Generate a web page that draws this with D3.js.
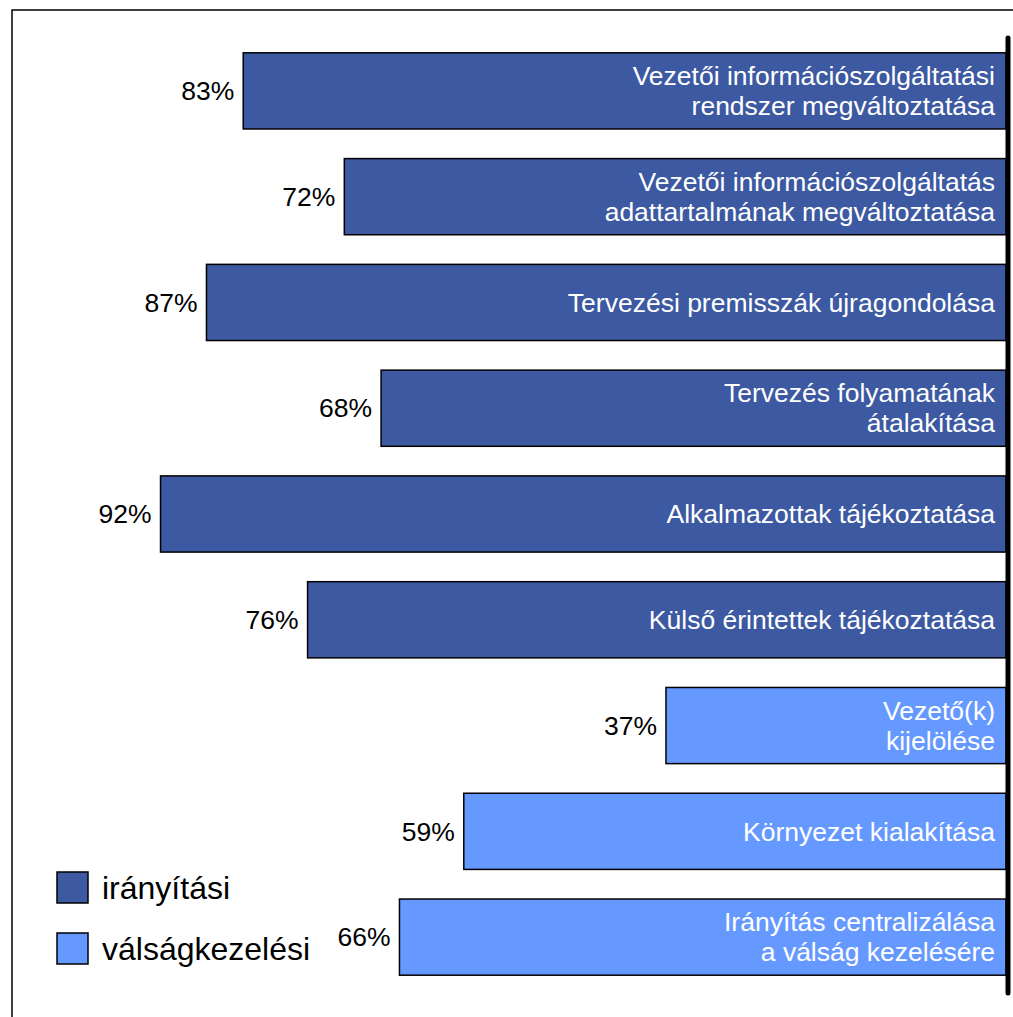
<!DOCTYPE html>
<html><head><meta charset="utf-8">
<script src="https://cdn.jsdelivr.net/npm/d3@7"></script>
<style>body{margin:0;background:#fff;} svg{display:block;font-family:"Liberation Sans",Arial,sans-serif;}</style>
</head><body>
<script>
const categories = [
  ["Vezetői információszolgáltatási","rendszer megváltoztatása"],
  ["Vezetői információszolgáltatás","adattartalmának megváltoztatása"],
  ["Tervezési premisszák újragondolása"],
  ["Tervezés folyamatának","átalakítása"],
  ["Alkalmazottak tájékoztatása"],
  ["Külső érintettek tájékoztatása"],
  ["Vezető(k)","kijelölése"],
  ["Környezet kialakítása"],
  ["Irányítás centralizálása","a válság kezelésére"]
];
const values = [83,72,87,68,92,76,37,59,66];
const groups = ["irányítási","irányítási","irányítási","irányítási","irányítási","irányítási","válságkezelési","válságkezelési","válságkezelési"];
const legendLabels = ["irányítási","válságkezelési"];
const colors = {"irányítási":"#3C59A1","válságkezelési":"#6699FF"};

const W=1013,H=1017;
const svg=d3.select("body").append("svg").attr("width",W).attr("height",H);
// frame
svg.append("rect").attr("x",12).attr("y",10).attr("width",1100).attr("height",1100)
  .attr("fill","none").attr("stroke","#000").attr("stroke-width",1.5);

const x=d3.scaleLinear().domain([0,100]).range([1006,87]);
const y=d3.scaleBand().domain(d3.range(values.length)).range([38,990]).paddingInner(0.28).paddingOuter(0.14);

const g=svg.append("g");
const bars=g.selectAll("g.bar").data(values).join("g");
bars.append("rect")
  .attr("x",d=>x(d)).attr("width",d=>x(0)-x(d))
  .attr("y",(d,i)=>y(i)).attr("height",y.bandwidth())
  .attr("fill",(d,i)=>colors[groups[i]]).attr("stroke","#000").attr("stroke-width",1.5);
bars.append("text")
  .attr("x",d=>x(d)-9).attr("y",(d,i)=>y(i)+y.bandwidth()/2)
  .attr("dy","0.35em").attr("text-anchor","end").attr("font-size",26.5).attr("fill","#000")
  .text(d=>d+"%");
bars.each(function(d,i){
  const lines=categories[i];
  const cy=y(i)+y.bandwidth()/2;
  const lh=30;
  const t=d3.select(this).append("text").attr("text-anchor","end").attr("font-size",26.5).attr("fill","#fff");
  lines.forEach((l,k)=>{
    t.append("tspan").attr("x",x(0)-11)
     .attr("y",cy+(k-(lines.length-1)/2)*lh).attr("dy","0.35em").text(l);
  });
});
// axis line
svg.append("line").attr("x1",x(0)+2).attr("x2",x(0)+2).attr("y1",38).attr("y2",993)
  .attr("stroke","#000").attr("stroke-width",5).attr("stroke-linecap","round");

// legend
const lg=svg.append("g");
legendLabels.forEach((l,i)=>{
  const yy=872+i*61;
  lg.append("rect").attr("x",57).attr("y",yy).attr("width",31).attr("height",31)
    .attr("fill",colors[l]).attr("stroke","#000").attr("stroke-width",1.5);
  lg.append("text").attr("x",102).attr("y",yy+15.5).attr("dy","0.35em").attr("font-size",32).attr("fill","#000").text(l);
});
</script>
</body></html>
